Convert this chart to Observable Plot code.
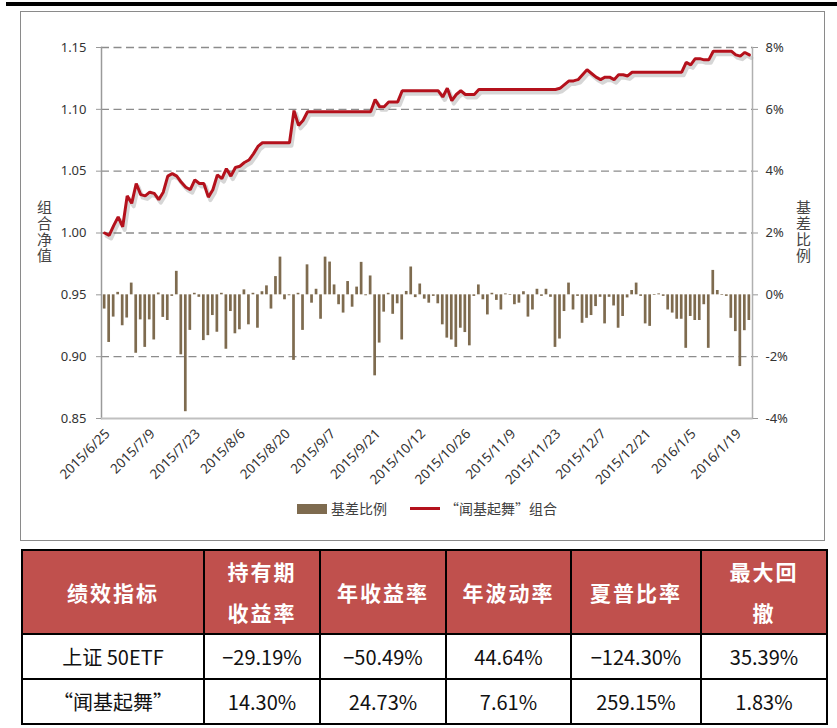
<!DOCTYPE html>
<html lang="zh-CN">
<head>
<meta charset="utf-8">
<script src="https://cdn.jsdelivr.net/npm/d3@7"></script>
<script src="https://cdn.jsdelivr.net/npm/@observablehq/plot@0.6"></script>
<style>
  html,body{margin:0;padding:0;background:#fff;}
  body{width:837px;height:728px;position:relative;overflow:hidden;font-family:"Noto Sans CJK SC","Noto Sans",sans-serif;}
  #topbar{position:absolute;left:6px;top:2px;width:831px;height:4px;background:#000;}
  #frame{position:absolute;left:20px;top:11px;width:803px;height:528px;border:1.5px solid #8a8a8a;}
  #chart{position:absolute;left:20px;top:12px;}
  .lg{position:absolute;font-size:14px;color:#404040;line-height:16px;white-space:nowrap;}
  .vt{position:absolute;writing-mode:vertical-rl;text-orientation:upright;font-size:15px;line-height:16px;letter-spacing:1px;color:#444;white-space:nowrap;}
  #tbl{position:absolute;left:21px;top:549px;width:805px;border-collapse:collapse;table-layout:fixed;}
  #tbl td,#tbl th{border:2.5px solid #000;text-align:center;padding:0;}
  #tbl th{background:#C0504D;color:#fff;font-weight:700;font-size:21px;letter-spacing:2px;line-height:41px;height:82px;}
  #tbl td{font-size:20px;color:#111;height:43px;}
</style>
</head>
<body>
<div id="topbar"></div>
<div id="frame"></div>
<div id="chart"></div>
<div class="vt" id="ytitleL" style="left:36px;top:200px;"></div>
<div class="vt" id="ytitleR" style="left:795px;top:200px;"></div>
<div class="lg" style="left:297px;top:504px;width:30px;height:10px;background:#7E6B4F;"></div>
<div class="lg" id="lg1" style="left:331px;top:500px;"></div>
<div class="lg" style="left:410px;top:507px;width:30px;height:3px;background:#B4111C;"></div>
<div class="lg" id="lg2" style="left:445px;top:500px;"></div>
<table id="tbl"></table>
<script>
const dates = [
"2015/6/25","2015/6/26","2015/6/29","2015/6/30",
"2015/7/1","2015/7/2","2015/7/3","2015/7/6","2015/7/7","2015/7/8","2015/7/9","2015/7/10","2015/7/13","2015/7/14","2015/7/15","2015/7/16","2015/7/17","2015/7/20","2015/7/21","2015/7/22","2015/7/23","2015/7/24","2015/7/27","2015/7/28","2015/7/29","2015/7/30","2015/7/31",
"2015/8/3","2015/8/4","2015/8/5","2015/8/6","2015/8/7","2015/8/10","2015/8/11","2015/8/12","2015/8/13","2015/8/14","2015/8/17","2015/8/18","2015/8/19","2015/8/20","2015/8/21","2015/8/24","2015/8/25","2015/8/26","2015/8/27","2015/8/28","2015/8/31",
"2015/9/1","2015/9/2","2015/9/7","2015/9/8","2015/9/9","2015/9/10","2015/9/11","2015/9/14","2015/9/15","2015/9/16","2015/9/17","2015/9/18","2015/9/21","2015/9/22","2015/9/23","2015/9/24","2015/9/25","2015/9/28","2015/9/29","2015/9/30",
"2015/10/8","2015/10/9","2015/10/12","2015/10/13","2015/10/14","2015/10/15","2015/10/16","2015/10/19","2015/10/20","2015/10/21","2015/10/22","2015/10/23","2015/10/26","2015/10/27","2015/10/28","2015/10/29","2015/10/30",
"2015/11/2","2015/11/3","2015/11/4","2015/11/5","2015/11/6","2015/11/9","2015/11/10","2015/11/11","2015/11/12","2015/11/13","2015/11/16","2015/11/17","2015/11/18","2015/11/19","2015/11/20","2015/11/23","2015/11/24","2015/11/25","2015/11/26","2015/11/27","2015/11/30",
"2015/12/1","2015/12/2","2015/12/3","2015/12/4","2015/12/7","2015/12/8","2015/12/9","2015/12/10","2015/12/11","2015/12/14","2015/12/15","2015/12/16","2015/12/17","2015/12/18","2015/12/21","2015/12/22","2015/12/23","2015/12/24","2015/12/25","2015/12/28","2015/12/29","2015/12/30","2015/12/31",
"2016/1/4","2016/1/5","2016/1/6","2016/1/7","2016/1/8","2016/1/11","2016/1/12","2016/1/13","2016/1/14","2016/1/15","2016/1/18","2016/1/19","2016/1/20","2016/1/21","2016/1/22"
];

// “闻基起舞”组合 net value (left axis)
const navValues = [
1.000,0.998,1.006,1.013,1.005,1.030,1.024,1.040,1.031,1.030,
1.033,1.032,1.027,1.033,1.046,1.048,1.046,1.041,1.037,1.035,
1.043,1.040,1.040,1.029,1.035,1.047,1.044,1.052,1.046,1.053,
1.054,1.057,1.059,1.064,1.070,1.073,1.073,1.073,1.073,1.073,
1.073,1.073,1.099,1.087,1.091,1.098,1.098,1.098,1.098,1.098,
1.098,1.098,1.098,1.098,1.098,1.098,1.098,1.098,1.098,1.098,
1.108,1.102,1.102,1.106,1.106,1.106,1.115,1.115,1.115,1.115,
1.115,1.115,1.115,1.115,1.115,1.110,1.117,1.107,1.112,1.115,
1.112,1.112,1.112,1.116,1.116,1.116,1.116,1.116,1.116,1.116,
1.116,1.116,1.116,1.116,1.116,1.116,1.116,1.116,1.116,1.116,
1.116,1.117,1.120,1.123,1.123,1.124,1.128,1.132,1.129,1.126,
1.124,1.126,1.126,1.124,1.128,1.128,1.127,1.130,1.130,1.130,
1.130,1.130,1.130,1.130,1.130,1.130,1.130,1.130,1.130,1.138,
1.136,1.141,1.141,1.140,1.140,1.147,1.147,1.147,1.147,1.147,
1.144,1.143,1.146,1.144
];

// 基差比例 (%, right axis)
const basisPct = [
-0.46,-1.54,-0.72,0.08,-1.00,-0.75,0.38,-1.89,-0.81,-1.70,
-0.81,-1.46,0.06,-0.73,-0.83,-0.05,0.76,-1.94,-3.78,-1.15,
0.05,-0.08,-1.48,-1.32,-0.67,-1.21,0.05,-1.76,-0.54,-1.26,
-1.13,0.16,-0.97,0.05,-1.08,0.10,0.29,-0.46,0.59,1.22,
-0.16,-0.03,-2.12,0.05,-1.15,0.97,-0.27,0.18,-0.79,1.22,
1.06,0.32,-0.32,-0.59,0.43,-0.40,0.25,1.05,-0.03,0.61,
-2.62,-1.56,-0.56,0.05,-0.63,-0.29,-1.46,0.11,0.90,-0.09,
0.35,-0.14,-0.27,-0.05,-0.29,-0.97,-1.40,-1.46,-1.70,-1.08,
-1.22,-1.65,-0.05,0.32,-0.16,-0.65,0.05,-0.18,-0.49,0.03,
-0.02,-0.32,-0.27,0.10,-0.72,-0.49,0.18,-0.05,0.18,-0.08,
-1.70,-1.43,-0.54,0.38,-0.49,-0.05,-0.92,-0.76,-0.67,-0.38,
-0.08,-0.94,-0.08,-0.36,-1.08,-0.70,-0.10,0.14,0.38,-0.05,
-0.94,-1.02,-0.02,0.03,-0.05,-0.49,-0.59,-0.79,-0.79,-1.73,
-0.70,-0.83,-0.83,-0.32,-1.73,0.79,0.14,-0.02,-0.05,-0.76,
-1.19,-2.32,-1.16,-0.83
];

const xTickLabels = ["2015/6/25","2015/7/9","2015/7/23","2015/8/6","2015/8/20","2015/9/7","2015/9/21","2015/10/12","2015/10/26","2015/11/9","2015/11/23","2015/12/7","2015/12/21","2016/1/5","2016/1/19"];
const leftTicks = [0.85,0.90,0.95,1.00,1.05,1.10,1.15];
const leftTickLabels = ["0.85","0.90","0.95","1.00","1.05","1.10","1.15"];
const rightTickLabels = ["-4%","-2%","0%","2%","4%","6%","8%"];
const gridLines = [0.90,1.00,1.05,1.10,1.15];
const leftTitle = "组合净值";
const rightTitle = "基差比例";
const seriesNames = ["基差比例", "“闻基起舞”组合"];

// table
const tableHeaders = ["绩效指标","持有期<br>收益率","年收益率","年波动率","夏普比率","最大回<br>撤"];
const rowNames = ["上证 50ETF","“闻基起舞”"];
const row1 = ["−29.19%","−50.49%","44.64%","−124.30%","35.39%"];
const row2 = ["14.30%","24.73%","7.61%","259.15%","1.83%"];
const colWidths = [182,116,126,125,130,126];

// left (net value) scale: 0.95 ↔ 0%, 0.05 ↔ 2%
const pctToLeft = p => 0.95 + p * 0.025;
const data = dates.map((d, i) => ({date: d, nav: navValues[i], basis: basisPct[i]}));

const chart = Plot.plot({
  width: 806, height: 478,
  marginLeft: 81, marginRight: 74, marginTop: 35, marginBottom: 72,
  style: {fontFamily: "'Noto Sans', sans-serif", fontSize: "13px", color: "#333", background: "transparent"},
  x: {type: "band", domain: dates, padding: 0.4},
  y: {domain: [0.85, 1.15]},
  marks: [
    Plot.ruleY(gridLines, {stroke: "#8c8c8c", strokeWidth: 1.3, strokeDasharray: "8,4.5"}),
    Plot.barY(data, {x: "date", y1: () => 0.95, y2: d => pctToLeft(d.basis), fill: "#7E6B4F"}),
    Plot.line(data, {x: "date", y: "nav", stroke: "#777", strokeOpacity: 0.3, strokeWidth: 4, dx: 2, dy: 3}),
    Plot.line(data, {x: "date", y: "nav", stroke: "#B4111C", strokeWidth: 3, strokeLinejoin: "miter"}),
    Plot.frame({anchor: "left", stroke: "#9a9a9a", strokeWidth: 1.5}),
    Plot.frame({anchor: "right", stroke: "#b0b0b0", strokeWidth: 1.5}),
    Plot.ruleY([0.85], {stroke: "#c0c0c0", strokeWidth: 2}),
    Plot.axisY(leftTicks, {anchor: "left", tickSize: 5, tickPadding: 10, stroke: "#999",
      tickFormat: d => leftTickLabels[leftTicks.indexOf(d)], label: null}),
    Plot.axisY(leftTicks, {anchor: "right", tickSize: 5, tickPadding: 8, stroke: "#999",
      tickFormat: d => rightTickLabels[leftTicks.indexOf(d)], label: null}),
    Plot.axisX(xTickLabels, {tickRotate: -45, tickSize: 0, tickPadding: 13, dx: 3, fontSize: 13.5, label: null})
  ]
});
document.getElementById("chart").appendChild(chart);

document.getElementById("ytitleL").textContent = leftTitle;
document.getElementById("ytitleR").textContent = rightTitle;
document.getElementById("lg1").textContent = seriesNames[0];
document.getElementById("lg2").textContent = seriesNames[1];

// build table
const tbl = document.getElementById("tbl");
let html = "<colgroup>" + colWidths.map(w => `<col style="width:${w}px">`).join("") + "</colgroup>";
html += "<tr>" + tableHeaders.map(h => `<th>${h}</th>`).join("") + "</tr>";
html += "<tr><td>" + rowNames[0] + "</td>" + row1.map(v => `<td>${v}</td>`).join("") + "</tr>";
html += "<tr><td>" + rowNames[1] + "</td>" + row2.map(v => `<td>${v}</td>`).join("") + "</tr>";
tbl.innerHTML = html;
</script>
</body>
</html>
